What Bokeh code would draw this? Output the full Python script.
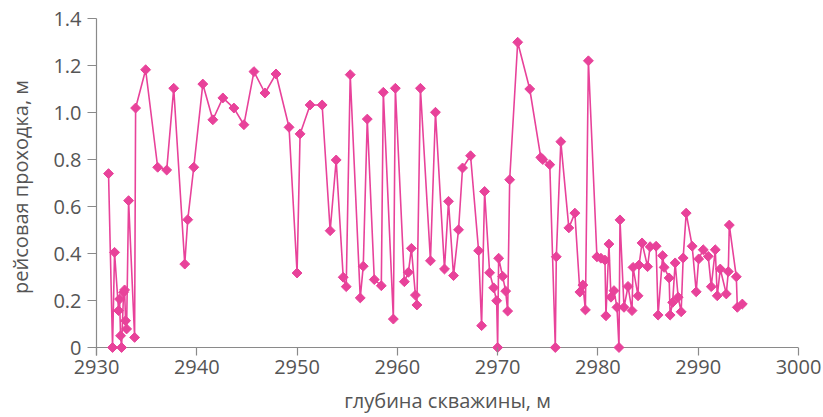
import math
from bokeh.plotting import figure
from bokeh.models import FixedTicker, Span
from bokeh.embed import file_html
from bokeh.resources import INLINE

depth = [2931.2, 2931.6, 2931.8, 2932.2, 2932.3, 2932.4, 2932.5, 2932.7, 2932.8, 2932.9,
         2933.0, 2933.2, 2933.8, 2933.9, 2934.9, 2936.1, 2937.0, 2937.7, 2938.8, 2939.1,
         2939.7, 2940.6, 2941.6, 2942.6, 2943.7, 2944.7, 2945.7, 2946.8, 2947.9, 2949.2,
         2950.0, 2950.3, 2951.3, 2952.5, 2953.3, 2953.9, 2954.6, 2954.9, 2955.3, 2956.3,
         2956.6, 2957.0, 2957.7, 2958.4, 2958.6, 2959.6, 2959.8, 2960.7, 2961.1, 2961.4,
         2961.8, 2961.95, 2962.3, 2963.3, 2963.8, 2964.7, 2965.1, 2965.6, 2966.1, 2966.5,
         2967.3, 2968.1, 2968.4, 2968.7, 2969.2, 2969.6, 2969.9, 2970.0, 2970.1, 2970.5,
         2970.8, 2971.0, 2971.2, 2972.0, 2973.2, 2974.3, 2974.5, 2975.2, 2975.75, 2975.85,
         2976.3, 2977.1, 2977.7, 2978.2, 2978.5, 2978.75, 2979.05, 2979.9, 2980.3, 2980.7,
         2980.8, 2981.1, 2981.3, 2981.6, 2981.9, 2982.1, 2982.2, 2982.6, 2983.0, 2983.4,
         2983.5, 2984.0, 2984.1, 2984.4, 2984.95, 2985.2, 2985.8, 2986.0, 2986.45, 2986.6,
         2987.1, 2987.2, 2987.45, 2987.7, 2988.0, 2988.3, 2988.5, 2988.8, 2989.4, 2989.8,
         2990.05, 2990.5, 2991.0, 2991.3, 2991.7, 2991.9, 2992.2, 2992.8, 2993.0, 2993.1,
         2993.8, 2993.9, 2994.4]

run_length = [0.74, 0.0, 0.405, 0.157, 0.206, 0.05, 0.0, 0.235, 0.245, 0.114,
              0.079, 0.625, 0.043, 1.019, 1.182, 0.767, 0.755, 1.103, 0.355, 0.544,
              0.767, 1.121, 0.969, 1.062, 1.019, 0.948, 1.174, 1.083, 1.164, 0.937,
              0.317, 0.909, 1.032, 1.032, 0.497, 0.798, 0.299, 0.259, 1.161, 0.211,
              0.346, 0.972, 0.289, 0.263, 1.086, 0.121, 1.103, 0.28, 0.32, 0.422,
              0.223, 0.181, 1.103, 0.369, 1.001, 0.334, 0.622, 0.306, 0.501, 0.764,
              0.816, 0.412, 0.093, 0.664, 0.318, 0.254, 0.199, 0.0, 0.38, 0.303,
              0.24, 0.155, 0.714, 1.299, 1.1, 0.809, 0.8, 0.778, 0.0, 0.386,
              0.876, 0.509, 0.572, 0.236, 0.266, 0.16, 1.22, 0.386, 0.38, 0.372,
              0.135, 0.44, 0.214, 0.242, 0.171, 0.0, 0.543, 0.171, 0.26, 0.157,
              0.341, 0.22, 0.351, 0.445, 0.344, 0.429, 0.431, 0.138, 0.391, 0.341,
              0.296, 0.138, 0.192, 0.36, 0.214, 0.152, 0.381, 0.572, 0.431, 0.237,
              0.377, 0.416, 0.388, 0.259, 0.416, 0.22, 0.334, 0.228, 0.323, 0.521,
              0.301, 0.171, 0.185]

x_ticks = [2930, 2940, 2950, 2960, 2970, 2980, 2990, 3000]
y_ticks = [0, 0.2, 0.4, 0.6, 0.8, 1.0, 1.2, 1.4]
y_labels = {0: "0", 0.2: "0.2", 0.4: "0.4", 0.6: "0.6", 0.8: "0.8", 1.0: "1.0", 1.2: "1.2", 1.4: "1.4"}
x_title = "глубина скважины, м"
y_title = "рейсовая проходка, м"

PINK = "#e8429a"
TEXT = "#555555"
AXIS = "#8a8a8a"
FONT = "Open Sans"

p = figure(width=822, height=416, output_backend="svg", toolbar_location=None,
           x_range=(2930, 3000), y_range=(-0.034, 1.4),
           min_border_left=96, min_border_right=24, min_border_top=18, min_border_bottom=61)
p.outline_line_color = None
p.xgrid.visible = False
p.ygrid.visible = False

p.add_layout(Span(location=0, dimension="width", line_color=AXIS, line_width=1.2, level="underlay"))

p.line(depth, run_length, line_color=PINK, line_width=1.6)
p.scatter(depth, run_length, marker="square", size=7, angle=math.pi / 4,
          fill_color=PINK, line_color=PINK)

xa = p.xaxis[0]
xa.ticker = FixedTicker(ticks=x_ticks)
xa.axis_line_color = None
xa.major_tick_in = 8
xa.major_tick_out = 0
xa.minor_tick_line_color = None
xa.major_tick_line_color = AXIS
xa.major_label_standoff = 4
xa.axis_label = x_title
xa.axis_label_standoff = 10

ya = p.yaxis[0]
ya.ticker = FixedTicker(ticks=y_ticks)
ya.major_label_overrides = y_labels
ya.axis_line_color = AXIS
ya.major_tick_line_color = AXIS
ya.major_tick_in = 0
ya.major_tick_out = 9
ya.minor_tick_line_color = None
ya.major_label_standoff = 6
ya.axis_label = y_title
ya.axis_label_standoff = 16

for ax in (xa, ya):
    ax.axis_line_width = 1.2
    ax.major_tick_line_width = 1.2
    ax.major_label_text_font = FONT
    ax.major_label_text_font_size = "20px"
    ax.major_label_text_color = TEXT
    ax.axis_label_text_font = FONT
    ax.axis_label_text_font_size = "20px"
    ax.axis_label_text_font_style = "normal"
    ax.axis_label_text_color = TEXT

open("out.html", "w").write(file_html(p, INLINE))
